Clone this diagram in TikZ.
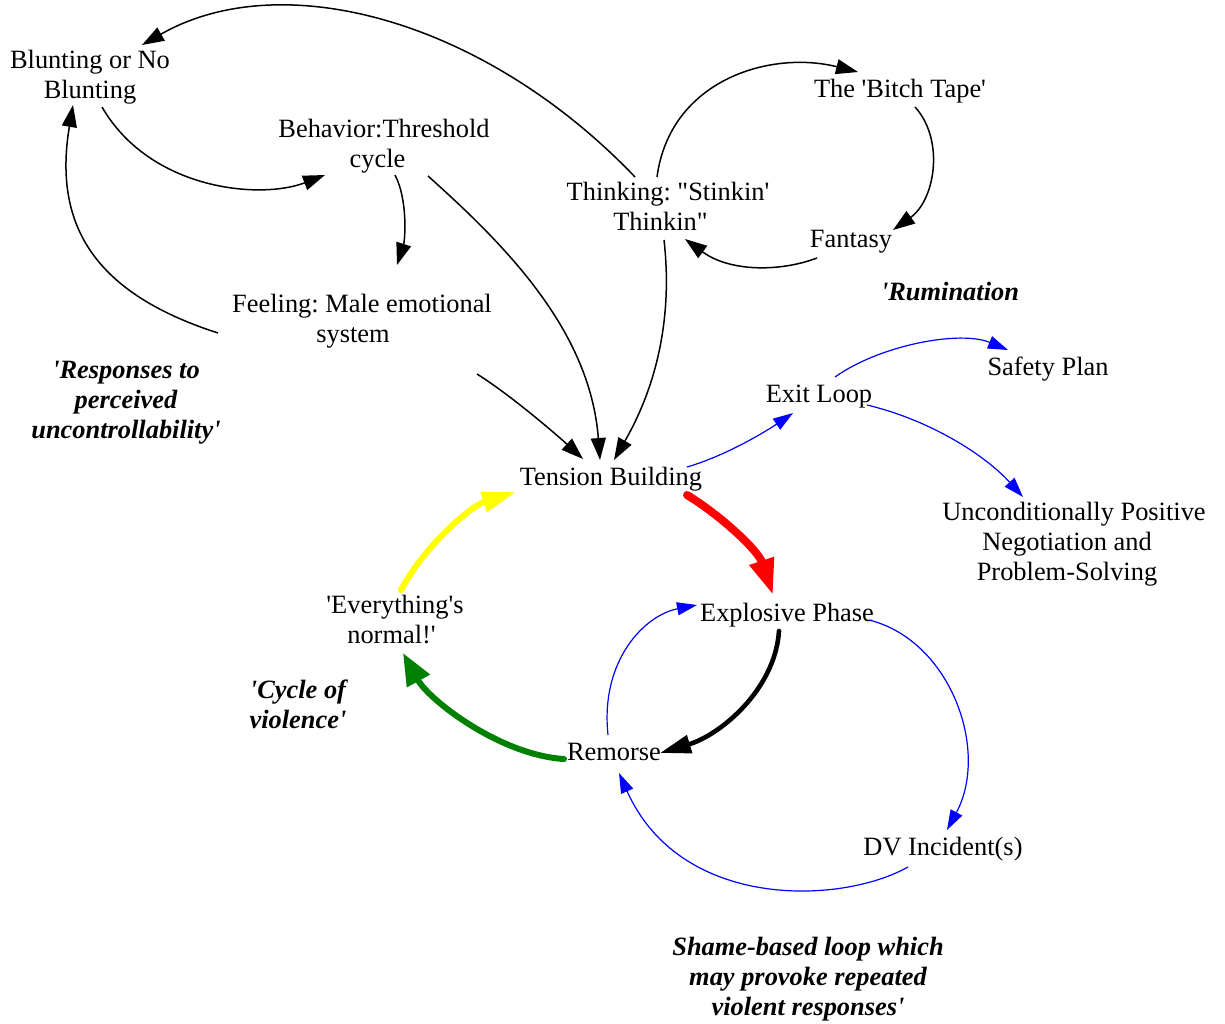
\documentclass[tikz,border=0pt]{standalone}
\usepackage{fontspec}
\setmainfont{Liberation Serif}[Ligatures=TeXOff]
\usetikzlibrary{arrows.meta}
\frenchspacing
\newcommand{\mlines}[1]{\begin{tabular}[t]{@{}c@{}}#1\end{tabular}}
\definecolor{bluec}{RGB}{0,0,255}
\definecolor{redc}{RGB}{255,0,0}
\definecolor{yelc}{RGB}{255,255,0}
\definecolor{grnc}{RGB}{0,128,0}
\tikzset{
  lbl/.style={font=\fontsize{13.2}{15}\selectfont, inner sep=0pt, anchor=base},
  note/.style={font=\fontsize{13.2}{15}\selectfont\bfseries\itshape, inner sep=0pt, anchor=base},
  blk/.style={line width=0.75pt, -{Triangle[length=11pt,width=7.5pt]}},
  blu/.style={line width=0.6pt, bluec, -{Triangle[length=10pt,width=6.5pt]}},
  redarr/.style={line width=4pt, redc, -{Triangle[length=18pt,width=12pt]}},
  yelarr/.style={line width=3pt, yelc, -{Triangle[length=17pt,width=10pt]}},
  grnarr/.style={line width=3pt, grnc, -{Triangle[length=16pt,width=12.5pt]}},
  blkthick/.style={line width=2.3pt, -{Triangle[length=15.5pt,width=9pt]}}
}
\begin{document}
\begin{tikzpicture}[x=0.5pt,y=-0.5pt]
\useasboundingbox (0,0) rectangle (1225,1023);
% nodes
\node[lbl] (blunt) at (90,68) {\mlines{Blunting or No\\Blunting}};
\node[lbl] (behav) at (384,137) {\mlines{Behavior:Threshold\\cycle\kern6.5pt}};
\node[lbl] (feel) at (362,312) {\mlines{Feeling: Male emotional\\system\kern9pt}};
\node[lbl] (think) at (668,200) {\mlines{Thinking: "Stinkin'\\Thinkin"\kern7.5pt}};
\node[lbl] (bitch) at (900,97) {The 'Bitch Tape'};
\node[lbl] (fant) at (851,247) {Fantasy};
\node[note] (rumin) at (950,300) {'Rumination};
\node[note] (resp) at (126,378) {\mlines{'Responses to\\perceived\\uncontrollability'}};
\node[lbl] (tension) at (611,485) {Tension Building};
\node[lbl] (exit) at (819,402) {Exit Loop};
\node[lbl] (safety) at (1048,375) {Safety Plan};
\node[lbl] (uncond) at (1074,520) {\mlines{Unconditionally Positive\\Negotiation and\kern7pt\\Problem-Solving\kern7pt}};
\node[lbl] (expl) at (787,621) {Explosive Phase};
\node[lbl] (every) at (395,613) {\mlines{'Everything's\\normal!'\kern3.5pt}};
\node[note] (cycle) at (298,698) {\mlines{'Cycle of\\violence'}};
\node[lbl] (remorse) at (614,760) {Remorse};
\node[lbl] (dv) at (943,855) {DV Incident(s)};
\node[note] (shame) at (808,955) {\mlines{Shame-based loop which\\may provoke repeated\\violent responses'}};
% black thin connectors
\draw[blk] ([shift={(-33,-23)}]think.base) .. controls +(-150,-157) and +(140,-80) .. ([shift={(52,-23)}]blunt.base);
\draw[blk] ([shift={(12,39)}]blunt.base) .. controls +(48,83) and +(-65,25) .. ([shift={(-59,38)}]behav.base);
\draw[blk] ([shift={(11,38)}]behav.base) .. controls +(13,25) and +(8,-25) .. ([shift={(35,-47)}]feel.base);
\draw[blk] ([shift={(-144,21)}]feel.base) .. controls +(-118,-38) and +(-21,125) .. ([shift={(-17,37)}]blunt.base);
\draw[blk] ([shift={(44,39)}]behav.base) .. controls +(77,69) and +(-10,-130) .. ([shift={(-11,-25)}]tension.base);
\draw[blk] ([shift={(115,62)}]feel.base) .. controls +(35,22) and +(-25,-23) .. ([shift={(-28,-26)}]tension.base);
\draw[blk] ([shift={(-4,40)}]think.base) .. controls +(8,70) and +(46,-80) .. ([shift={(3,-25)}]tension.base);
\draw[blk] ([shift={(-11,-23)}]think.base) .. controls +(13,-97) and +(-88,-22) .. ([shift={(-42,-25)}]bitch.base);
\draw[blk] ([shift={(15,10)}]bitch.base) .. controls +(30,33) and +(42,-30) .. ([shift={(42,-17)}]fant.base);
\draw[blk] ([shift={(-34,11)}]fant.base) .. controls +(-37,14) and +(45,33) .. ([shift={(17,39)}]think.base);
% blue connectors
\draw[blu] ([shift={(76,-18)}]tension.base) .. controls +(38,-11) and +(-28,19) .. ([shift={(-26,11)}]exit.base);
\draw[blu] ([shift={(16,-25)}]exit.base) .. controls +(45,-32) and +(-48,-20) .. ([shift={(-40,-25)}]safety.base);
\draw[blu] ([shift={(48,3)}]exit.base) .. controls +(63,15) and +(-38,-42) .. ([shift={(-51,-23)}]uncond.base);
\draw[blu] ([shift={(-6,-25)}]remorse.base) .. controls +(-8,-75) and +(-52,10) .. ([shift={(-90,-16)}]expl.base);
\draw[blu] ([shift={(82,-1)}]expl.base) .. controls +(81,20) and +(43,-80) .. ([shift={(4,-25)}]dv.base);
\draw[blu] ([shift={(-35,12)}]dv.base) .. controls +(-68,38) and +(61,137) .. ([shift={(5,13)}]remorse.base);
% cycle of violence
\draw[redarr, line cap=round] ([shift={(76,10)}]tension.base) .. controls +(33,20) and +(-15,-45) .. ([shift={(-14,-26)}]expl.base);
\draw[blkthick, line cap=round] ([shift={(-8,10)}]expl.base) .. controls +(-4,59) and +(60,-18) .. ([shift={(46,-7)}]remorse.base);
\draw[grnarr, line cap=round] ([shift={(-50,-1)}]remorse.base) .. controls +(-64,-4) and +(26,47) .. ([shift={(8,40)}]every.base);
\draw[yelarr, line cap=round] ([shift={(6,-23)}]every.base) .. controls +(24,-45) and +(-45,14) .. ([shift={(-95,7)}]tension.base);
\end{tikzpicture}
\end{document}
